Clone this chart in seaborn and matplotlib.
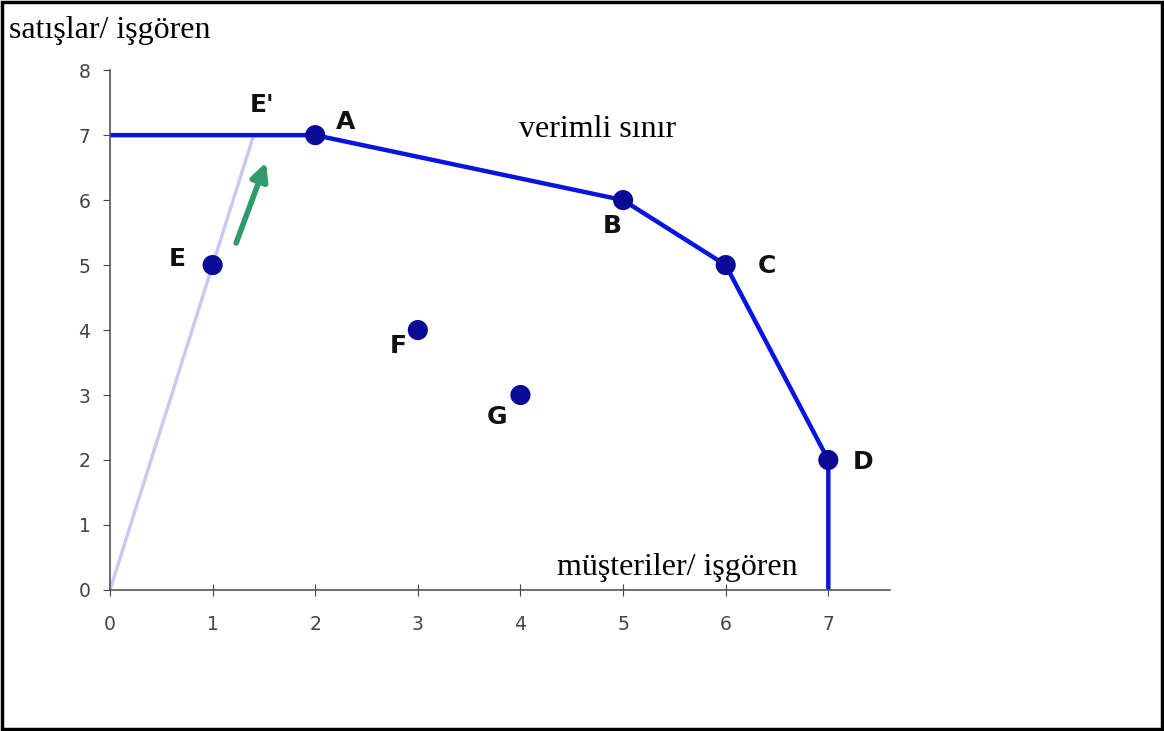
import numpy as np
import pandas as pd
import seaborn as sns
import matplotlib.pyplot as plt
from matplotlib.patches import Rectangle

# efficient frontier (A, B, C, D plus the two open ends)
frontier_x = [0, 2, 5, 6, 7, 7]
frontier_y = [7, 7, 6, 5, 2, 0]

# named firms
firm_names = ['A', 'B', 'C', 'D', 'E', 'F', 'G']
firm_x = [2, 5, 6, 7, 1, 3, 4]
firm_y = [7, 6, 5, 2, 5, 4, 3]

# ray from the origin through E to E'
ray_x = [0, 1.4]
ray_y = [0, 7]

x_ticks = [0, 1, 2, 3, 4, 5, 6, 7]
y_ticks = [0, 1, 2, 3, 4, 5, 6, 7, 8]

sns.set_style("ticks")
plt.rcParams['font.family'] = ['DejaVu Sans']

fig = plt.figure(figsize=(11.64, 7.31), dpi=100)
ax = fig.add_axes([0.0945, 0.193, 0.67, 0.711])

frontier_df = pd.DataFrame({'x': frontier_x, 'y': frontier_y})
firms_df = pd.DataFrame({'name': firm_names, 'x': firm_x, 'y': firm_y})

ax.plot(ray_x, ray_y, color='#c9c9f2', lw=2.5, zorder=1)
sns.lineplot(data=frontier_df, x='x', y='y', sort=False, estimator=None,
             color='#0814e0', lw=3.2, ax=ax, zorder=2)
sns.scatterplot(data=firms_df, x='x', y='y', color='#0a0a96', s=210,
                edgecolor='none', ax=ax, zorder=3)

# point labels
label_pos = {'A': (2.3, 7.2), 'B': (4.89, 5.6), 'C': (6.4, 4.98),
             'D': (7.34, 1.97), 'E': (0.66, 5.1), 'F': (2.81, 3.76),
             'G': (3.77, 2.66)}
for name, (lx, ly) in label_pos.items():
    ax.text(lx, ly, name, fontsize=18, fontweight='bold', color='#111111',
            ha='center', va='center')
ax.text(1.48, 7.46, "E'", fontsize=18, fontweight='bold', color='#111111',
        ha='center', va='center')

# green arrow E -> E'
ax.annotate('', xy=(1.53, 6.62), xytext=(1.22, 5.3),
            arrowprops=dict(arrowstyle='-|>', color='#2f9a6c', lw=4,
                            mutation_scale=26))

ax.text(4.75, 7.08, 'verimli sınır', fontsize=23, family='Liberation Serif',
        ha='center', va='center', color='black')
ax.text(5.53, 0.34, 'müşteriler/ işgören', fontsize=23,
        family='Liberation Serif', ha='center', va='center', color='black')
fig.text(0.008, 0.958, 'satışlar/ işgören', fontsize=23,
         family='Liberation Serif', ha='left', va='center', color='black')

ax.set_xlim(0, 7.6)
ax.set_ylim(0, 8)
ax.set_xticks(x_ticks)
ax.set_yticks(y_ticks)
ax.set_xlabel('')
ax.set_ylabel('')
ax.tick_params(axis='x', direction='inout', length=8, labelsize=13.5,
               colors='#444444', pad=14)
ax.tick_params(axis='y', direction='out', length=5, labelsize=13.5,
               colors='#444444', pad=9)
for side in ['top', 'right']:
    ax.spines[side].set_visible(False)
for side in ['left', 'bottom']:
    ax.spines[side].set_color('#555555')
    ax.spines[side].set_linewidth(1.2)

# page border
fig.patches.append(Rectangle((0.002, 0.003), 0.996, 0.994, fill=False,
                             edgecolor='black', lw=2.5,
                             transform=fig.transFigure))

fig.savefig('out.png', dpi=100)
